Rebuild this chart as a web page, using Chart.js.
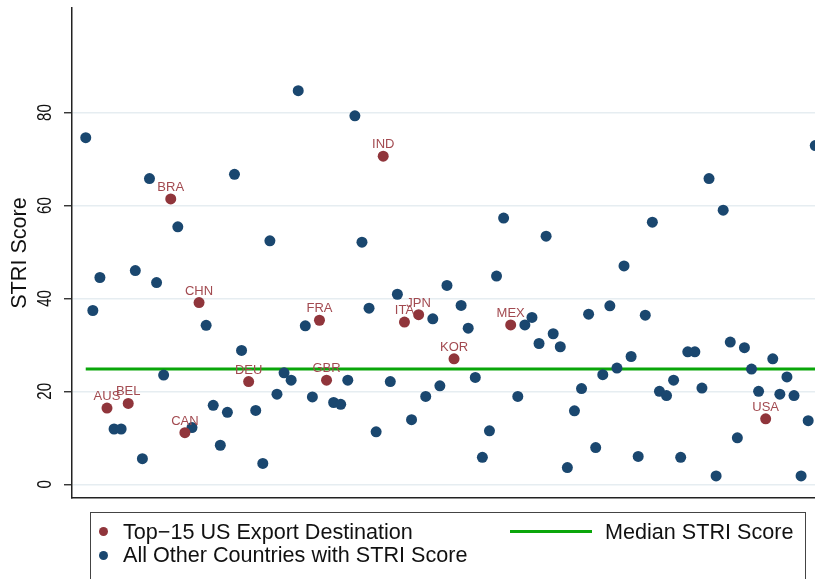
<!DOCTYPE html>
<html>
<head>
    <meta charset="utf-8">
    <title>STRI Score</title>
    <style>
        * {
            margin: 0;
            padding: 0;
            box-sizing: border-box;
        }

        body {
            width: 815px;
            height: 579px;
            overflow: hidden;
            background: #fff;
            font-family: "Liberation Sans", Arial, sans-serif;
        }

        /* a bit wider than the window: the plot runs past the right edge */
        .wrap {
            position: relative;
            width: 840px;
            height: 579px;
        }

        #striChart {
            position: absolute;
            left: 0;
            top: 0;
        }

        /* legend box, bottom is cut by the window */
        .legend-box {
            position: absolute;
            left: 90px;
            top: 512px;
            width: 716px;
            height: 90px;
            border: 1.5px solid #444;
        }

        .dot {
            position: absolute;
            left: 99px;
            width: 9px;
            height: 9px;
            border-radius: 50%;
        }

        .txt {
            position: absolute;
            font-size: 21.6px;
            line-height: 26px;
            color: #111;
            white-space: nowrap;
        }

        .gline {
            position: absolute;
            left: 510px;
            top: 530px;
            width: 82px;
            height: 3px;
            background: #0aa60a;
        }
    </style>
</head>
<body>
    <div class="wrap">
        <canvas id="striChart" width="840" height="579"></canvas>
        <div class="legend-box"></div>
        <span class="dot" style="top: 527px; background: rgb(144,53,59);"></span>
        <span class="txt" style="left: 123px; top: 519px;">Top&minus;15 US Export Destination</span>
        <span class="dot" style="top: 550.5px; background: rgb(26,71,111);"></span>
        <span class="txt" style="left: 123px; top: 542px;">All Other Countries with STRI Score</span>
        <span class="gline"></span>
        <span class="txt" style="left: 605px; top: 519px;">Median STRI Score</span>
    </div>

    <script src="https://cdn.jsdelivr.net/npm/chart.js"></script>
    <script>
        // STRI score per country, countries in alphabetical order (x = position)
        const striScore = [
            74.6, 37.4, 44.5, 16.4, 11.9, 11.9, 17.4, 46.0, 5.5, 65.8,
            43.4, 23.5, 61.4, 55.4, 11.1, 12.2, 39.1, 34.2, 17.0, 8.4,
            15.5, 66.7, 28.8, 22.1, 15.9, 4.5, 52.4, 19.4, 24.0, 22.4,
            84.7, 34.1, 18.8, 35.3, 22.4, 17.6, 17.2, 22.4, 79.3, 52.1,
            37.9, 11.3, 70.6, 22.1, 40.9, 34.9, 13.9, 36.5, 18.9, 35.6,
            21.2, 42.8, 27.0, 38.5, 33.6, 23.0, 5.8, 11.5, 44.8, 57.3,
            34.3, 18.9, 34.3, 35.9, 30.3, 53.4, 32.4, 29.6, 3.6, 15.8,
            20.6, 36.6, 7.9, 23.6, 38.4, 25.0, 47.0, 27.5, 6.0, 36.4,
            56.4, 20.0, 19.1, 22.4, 5.8, 28.5, 28.5, 20.7, 65.8, 1.8,
            59.0, 30.6, 10.0, 29.4, 24.8, 20.0, 14.1, 27.0, 19.4, 23.1,
            19.1, 1.8, 13.7, 72.9
        ];

        // positions of the top-15 US export destinations and their codes
        const topIndex = [3, 6, 12, 14, 16, 23, 33, 34, 42, 45, 47, 52, 60, 96];
        const topCodes = ['AUS', 'BEL', 'BRA', 'CAN', 'CHN', 'DEU', 'FRA', 'GBR', 'IND', 'ITA', 'JPN', 'KOR', 'MEX', 'USA'];

        const medianScore = 24.8;
        const yTicks = [0, 20, 40, 60, 80];

        var navy = 'rgb(26,71,111)';
        var cranberry = 'rgb(144,53,59)';
        var green = '#0aa60a';

        // split into the two groups
        var topPoints = [];
        var otherPoints = [];
        striScore.forEach(function (v, i) {
            var k = topIndex.indexOf(i);
            if (k >= 0) {
                topPoints.push({ x: i, y: v, code: topCodes[k] });
            } else {
                otherPoints.push({ x: i, y: v });
            }
        });

        // country codes above the red markers
        var codeLabels = {
            id: 'codeLabels',
            afterDatasetsDraw: function (chart) {
                var ctx = chart.ctx;
                var meta = chart.getDatasetMeta(0);
                ctx.save();
                ctx.font = '13px "Liberation Sans", Arial, sans-serif';
                ctx.fillStyle = '#a24a50';
                ctx.textAlign = 'center';
                ctx.textBaseline = 'alphabetic';
                meta.data.forEach(function (pt, i) {
                    ctx.fillText(topPoints[i].code, pt.x, pt.y - 8);
                });
                ctx.restore();
            }
        };

        // vertical y tick labels (narrow, like the original)
        var yTickLabels = {
            id: 'yTickLabels',
            afterDraw: function (chart) {
                var y = chart.scales.y;
                var ctx = chart.ctx;
                ctx.save();
                ctx.font = '21px "Liberation Sans", Arial, sans-serif';
                ctx.fillStyle = '#111';
                ctx.textAlign = 'center';
                ctx.textBaseline = 'middle';
                y.ticks.forEach(function (t) {
                    ctx.save();
                    ctx.translate(45.3, y.getPixelForValue(t.value));
                    ctx.rotate(-Math.PI / 2);
                    ctx.scale(0.72, 1);
                    ctx.fillText(String(t.value), 0, 0);
                    ctx.restore();
                });
                ctx.restore();
            }
        };

        var ctx = document.getElementById('striChart').getContext('2d');
        var striChart = new Chart(ctx, {
            type: 'scatter',
            data: {
                datasets: [{
                    label: 'Top\u221215 US Export Destination',
                    data: topPoints,
                    backgroundColor: cranberry,
                    borderWidth: 0,
                    pointRadius: 5.5,
                    order: 0
                }, {
                    label: 'All Other Countries with STRI Score',
                    data: otherPoints,
                    backgroundColor: navy,
                    borderWidth: 0,
                    pointRadius: 5.5,
                    order: 1
                }, {
                    type: 'line',
                    label: 'Median STRI Score',
                    data: [{ x: 0, y: medianScore }, { x: striScore.length - 1, y: medianScore }],
                    borderColor: green,
                    borderWidth: 3,
                    pointRadius: 0,
                    fill: false,
                    order: 2
                }]
            },
            options: {
                responsive: false,
                animation: false,
                events: [],
                layout: { padding: { top: 8, left: 0, right: 11, bottom: 81 } },
                plugins: {
                    legend: { display: false },
                    tooltip: { enabled: false }
                },
                scales: {
                    x: {
                        type: 'linear',
                        min: -1.94,
                        max: 104.94,
                        grid: { display: false },
                        ticks: { display: false },
                        border: { display: true, color: '#222', width: 1.5 },
                        afterFit: function (s) { s.height = 0; }
                    },
                    y: {
                        min: -2.95,
                        max: 102.5,
                        afterBuildTicks: function (s) {
                            s.ticks = yTicks.map(function (v) { return { value: v }; });
                        },
                        ticks: { display: false },
                        grid: {
                            color: '#e6edf1',
                            lineWidth: 1.5,
                            tickLength: 8,
                            tickColor: '#222',
                            tickWidth: 1.3
                        },
                        border: { color: '#222', width: 1.5 },
                        title: {
                            display: true,
                            text: 'STRI Score',
                            color: '#111',
                            font: { family: '"Liberation Sans", Arial, sans-serif', size: 21.6, lineHeight: 1.2 },
                            padding: { top: 6.7, bottom: 0 }
                        },
                        afterFit: function (s) { s.width = 72; }
                    }
                }
            },
            plugins: [codeLabels, yTickLabels]
        });
    </script>
</body>
</html>
